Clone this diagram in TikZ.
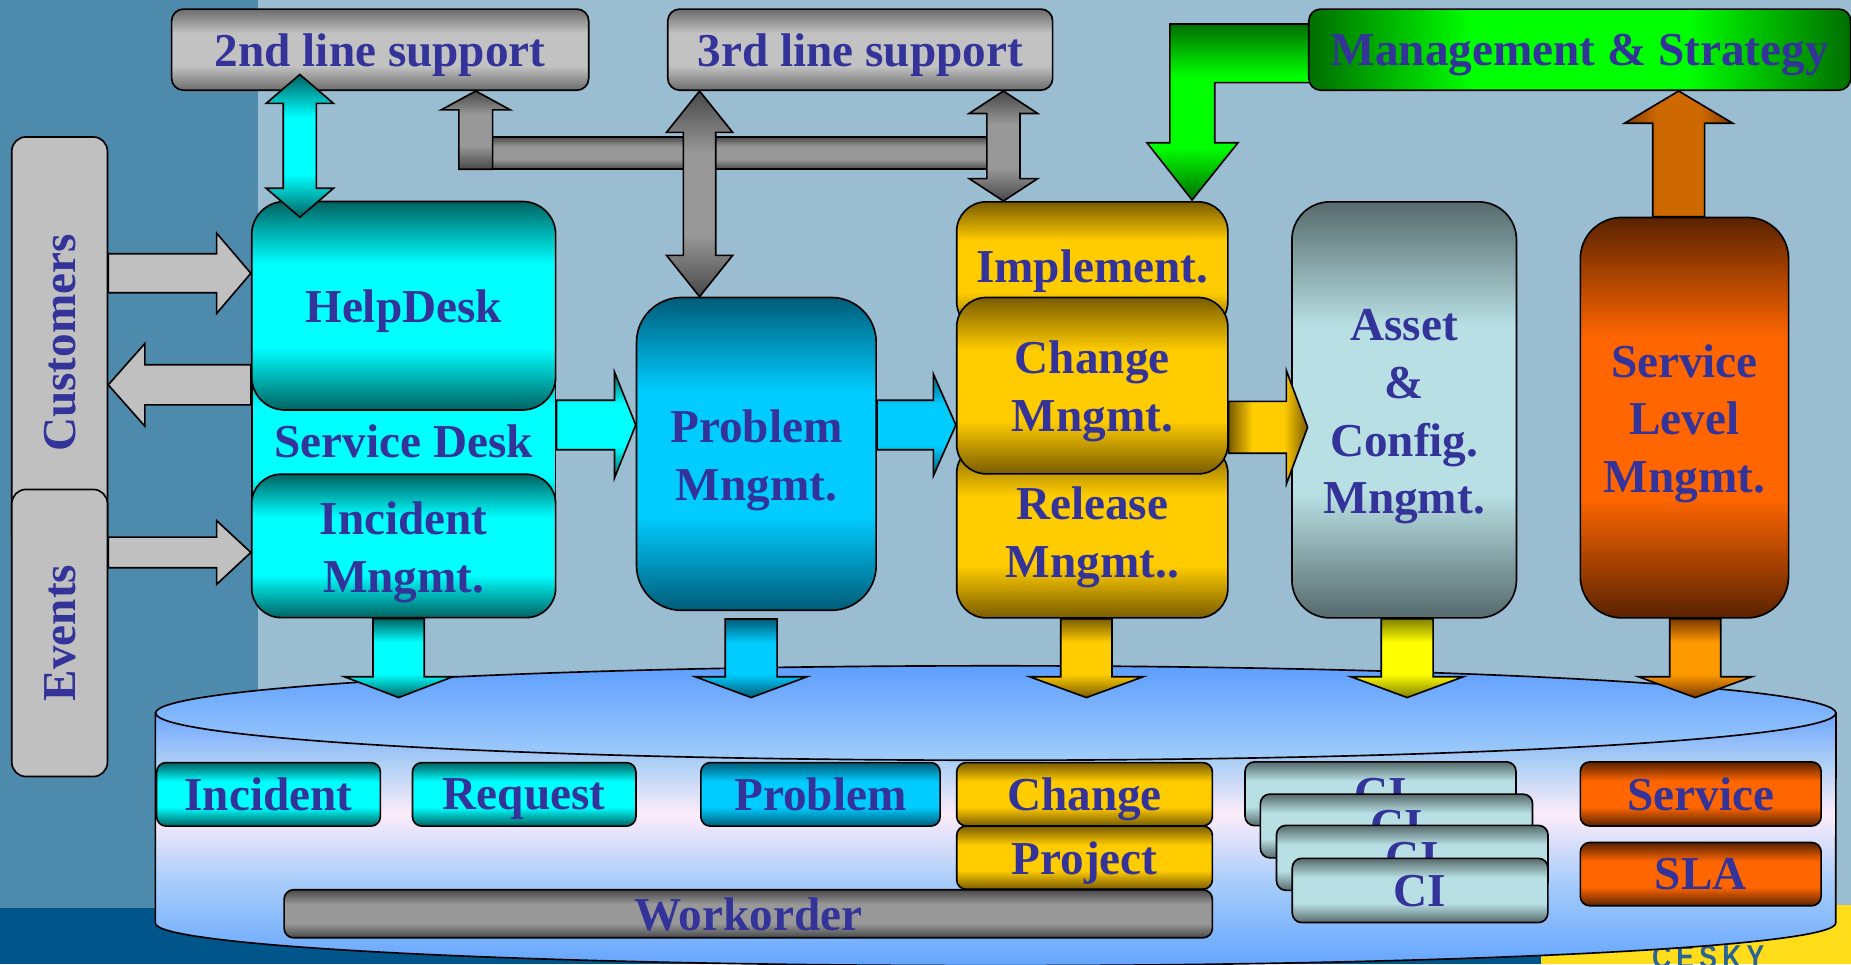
\documentclass[tikz,border=0pt]{standalone}
\usepackage{fontspec}
\setmainfont{Liberation Serif}
\newfontfamily\logofont{Liberation Sans}[LetterSpace=16, FakeStretch=0.8]
\usetikzlibrary{calc}

% palette
\definecolor{txtblue}{RGB}{51,51,153}
\definecolor{bglight}{RGB}{155,189,209}
\definecolor{bgstrip}{RGB}{77,138,172}
\definecolor{bgdark}{RGB}{0,86,138}
\definecolor{bgyellow}{RGB}{255,221,26}
\definecolor{logoblue}{RGB}{40,100,150}
\definecolor{plaingray}{RGB}{192,192,192}
\definecolor{grayD}{RGB}{108,108,108}\definecolor{grayL}{RGB}{194,194,194}
\definecolor{pipeD}{RGB}{72,72,72}\definecolor{pipeL}{RGB}{152,152,152}
\definecolor{cyanD}{RGB}{0,98,98}\definecolor{cyanL}{RGB}{0,255,255}
\definecolor{probD}{RGB}{0,92,120}\definecolor{probL}{RGB}{0,204,255}
\definecolor{goldD}{RGB}{122,92,0}\definecolor{goldL}{RGB}{255,204,0}
\definecolor{slateD}{RGB}{86,106,108}\definecolor{slateL}{RGB}{184,224,228}
\definecolor{rustD}{RGB}{90,34,0}\definecolor{rustL}{RGB}{255,102,0}
\definecolor{greenD}{RGB}{0,110,0}\definecolor{greenL}{RGB}{0,255,0}
\definecolor{yellD}{RGB}{128,128,0}\definecolor{yellL}{RGB}{255,255,0}
\definecolor{ambD}{RGB}{122,58,0}\definecolor{ambL}{RGB}{255,153,0}
\definecolor{brownD}{RGB}{130,58,0}\definecolor{brownL}{RGB}{206,104,0}
\definecolor{cylT}{RGB}{110,165,255}\definecolor{cylU}{RGB}{175,208,245}
\definecolor{cylP}{RGB}{252,236,250}\definecolor{cylM}{RGB}{165,203,250}
\definecolor{cylB}{RGB}{100,165,255}
\definecolor{faceT}{RGB}{95,158,255}\definecolor{faceB}{RGB}{160,205,250}

% dark - light - dark bands
\newcommand{\bandshading}[3]{%
  \pgfdeclareverticalshading{#1}{100bp}{color(0bp)=(#2); color(25bp)=(#2);
    color(40bp)=(#3); color(60bp)=(#3); color(75bp)=(#2); color(100bp)=(#2)}}
\bandshading{bandgray}{grayD}{grayL}
\bandshading{bandpipe}{pipeD}{pipeL}
\bandshading{bandcyan}{cyanD}{cyanL}
\bandshading{bandprob}{probD}{probL}
\bandshading{bandgold}{goldD}{goldL}
\bandshading{bandslate}{slateD}{slateL}
\bandshading{bandrust}{rustD}{rustL}
\bandshading{bandgreen}{greenD}{greenL}
\bandshading{bandyell}{yellD}{yellL}
\bandshading{bandamb}{ambD}{ambL}
\bandshading{bandbrown}{brownD}{brownL}
\pgfdeclareverticalshading{cylbody}{100bp}{color(0bp)=(cylB); color(25bp)=(cylB);
  color(41bp)=(cylM); color(55bp)=(cylP); color(65bp)=(cylU); color(75bp)=(cylT); color(100bp)=(cylT)}

% block arrow: style, start, tip, half shaft, half head, head length
\newcommand{\blockarrow}[6]{%
  \coordinate (bas) at (#2);
  \coordinate (bat) at (#3);
  \coordinate (bab) at ($(bat)!#6!(bas)$);
  \path[#1] ($(bas)!#4!90:(bat)$) -- ($(bab)!#4!90:(bat)$) -- ($(bab)!#5!90:(bat)$) -- (bat)
    -- ($(bab)!#5!-90:(bat)$) -- ($(bab)!#4!-90:(bat)$) -- ($(bas)!#4!-90:(bat)$) -- cycle;}
% double-headed block arrow: style, end A, end B, half shaft, half head, head length
\newcommand{\dblarrow}[6]{%
  \coordinate (daa) at (#2);
  \coordinate (dab) at (#3);
  \coordinate (da1) at ($(daa)!#6!(dab)$);
  \coordinate (da2) at ($(dab)!#6!(daa)$);
  \path[#1] (daa) -- ($(da1)!#5!90:(dab)$) -- ($(da1)!#4!90:(dab)$)
    -- ($(da2)!#4!-90:(daa)$) -- ($(da2)!#5!-90:(daa)$) -- (dab)
    -- ($(da2)!#5!90:(daa)$) -- ($(da2)!#4!90:(daa)$)
    -- ($(da1)!#4!-90:(dab)$) -- ($(da1)!#5!-90:(dab)$) -- cycle;}

% taller first line so stacked labels sit centred on their cap height
\newcommand{\lift}{\rule{0pt}{38pt}}

\tikzset{
  lbl/.style={font=\fontsize{40}{49}\selectfont\bfseries, text=txtblue, align=center},
  one/.style={text depth=0pt},
  box/.style={draw=black, line width=1.4pt, shade, inner sep=0pt, lbl, anchor=north west},
  conn/.style={draw=black, line width=1.4pt, shade},
  flat/.style={draw=black, line width=1.4pt, fill=plaingray},
  logo/.style={font={\fontsize{28}{30}\logofont\bfseries}, text=logoblue}
}

\begin{document}
\begin{tikzpicture}[x=1pt,y=-1pt]
\useasboundingbox (0,0) rectangle (1568,817);
\clip (0,0) rectangle (1568,817);

% backdrop
\fill[bglight] (0,0) rectangle (1568,817);
\fill[bgstrip] (0,0) rectangle (218.4,769);
\fill[bgdark] (0,769) rectangle (1305,817);
\fill[bgyellow] (1305,767) rectangle (1568,817);
\node[logo, anchor=base, inner sep=0pt] (logo) at (1447,820) {ČESKY};

% repository cylinder
\path[draw=black, line width=1.4pt, shade, shading=cylbody]
  (131.6,604) -- (131.6,782) arc[start angle=180, end angle=360, x radius=711.7pt, y radius=36pt]
  -- (1555.3,604) -- cycle;
\path[draw=black, line width=1.4pt, top color=faceT, bottom color=faceB]
  (843.5,604) ellipse [x radius=711.7pt, y radius=40pt];

% management feed into implementation
\path[conn, shading=bandgreen] (1112,20.3) -- (991,20.3) -- (991,120.9) -- (971.6,120.9)
  -- (1009.8,169.4) -- (1048.7,120.9) -- (1029,120.9) -- (1029,70) -- (1112,70) -- cycle;

% support tiers
\node[box, one, shading=bandgray, rounded corners=10pt, minimum width=353.3pt, minimum height=68.7pt] (sec2) at (144.7,7) {2nd line support};
\node[box, one, shading=bandgray, rounded corners=10pt, minimum width=326pt, minimum height=68.7pt] (sec3) at (565,7) {3rd line support};
\node[box, one, shading=bandgreen, shading angle=90, rounded corners=10pt, minimum width=459pt, minimum height=68.7pt] (mgmt) at (1108,7) {Management \& Strategy};

% sources
\node[flat, lbl, one, inner sep=0pt, rotate=90, rounded corners=12pt, minimum width=349pt, minimum height=81pt] (cust) at (50.5,290.5) {Customers};
\node[flat, lbl, one, inner sep=0pt, rotate=90, rounded corners=12pt, minimum width=243.2pt, minimum height=81pt] (evt) at (50.5,536.2) {Events};

% service desk
\node[box, one, shading=bandcyan, minimum width=257.5pt, minimum height=154pt] (sd) at (212.5,296) {Service Desk};
\node[box, one, shading=bandcyan, rounded corners=28pt, minimum width=257.5pt, minimum height=176.6pt] (hd) at (212.5,170) {HelpDesk};
\node[box, shading=bandcyan, rounded corners=25pt, minimum width=257.5pt, minimum height=121.5pt] (inc) at (212.5,401) {\lift Incident\\Mngmt.};

% processes
\node[box, shading=bandprob, rounded corners=38pt, minimum width=203pt, minimum height=265pt] (prb) at (538.5,251.3) {\lift Problem\\Mngmt.};
\node[box, one, shading=bandgold, rounded corners=25pt, minimum width=229.7pt, minimum height=109.4pt] (impl) at (809.7,170.3) {Implement.};
\node[box, shading=bandgold, rounded corners=25pt, minimum width=229.7pt, minimum height=147.4pt] (rel) at (809.7,375.3) {\lift Release\\Mngmt..};
\node[box, shading=bandgold, rounded corners=25pt, minimum width=229.7pt, minimum height=149.4pt] (chg) at (809.7,251.3) {\lift Change\\Mngmt.};
\node[box, shading=bandslate, rounded corners=32pt, minimum width=190.2pt, minimum height=352.4pt] (ast) at (1093.7,170.3) {\lift Asset\\\&\\Config.\\Mngmt.};
\node[box, shading=bandrust, rounded corners=35pt, minimum width=176.4pt, minimum height=339.2pt] (slm) at (1338,183.5) {\lift Service\\Level\\Mngmt.};

% records in the repository
\node[box, one, shading=bandcyan, rounded corners=8pt, minimum width=189.5pt, minimum height=53.8pt] (rInc) at (132,645.3) {Incident};
\node[box, one, shading=bandcyan, rounded corners=8pt, minimum width=189.3pt, minimum height=53.8pt] (rReq) at (348.7,645.3) {Request};
\node[box, one, shading=bandprob, rounded corners=8pt, minimum width=202.7pt, minimum height=53.8pt] (rPrb) at (593,645.3) {Problem};
\node[box, one, shading=bandgold, rounded corners=8pt, minimum width=216.6pt, minimum height=53.6pt] (rChg) at (809.7,645.3) {Change};
\node[box, one, shading=bandgold, rounded corners=8pt, minimum width=216.6pt, minimum height=53.6pt] (rPrj) at (809.7,699) {Project};
\node[box, one, shading=bandpipe, rounded corners=8pt, minimum width=786.3pt, minimum height=40.7pt] (rWo) at (240,753) {Workorder};
\node[box, one, shading=bandslate, rounded corners=8pt, minimum width=229.5pt, minimum height=54pt] (ci1) at (1054,644.7) {CI};
\node[box, one, shading=bandslate, rounded corners=8pt, minimum width=230.5pt, minimum height=54pt] (ci2) at (1067,672) {CI};
\node[box, one, shading=bandslate, rounded corners=8pt, minimum width=230pt, minimum height=55pt] (ci3) at (1080.6,698.5) {CI};
\node[box, one, shading=bandslate, rounded corners=8pt, minimum width=216.5pt, minimum height=54.4pt] (ci4) at (1094,726.4) {CI};
\node[box, one, shading=bandrust, rounded corners=8pt, minimum width=204pt, minimum height=54.3pt] (rSrv) at (1338,644.7) {Service};
\node[box, one, shading=bandrust, rounded corners=8pt, minimum width=204pt, minimum height=53.6pt] (rSla) at (1338,713) {SLA};

% reference levels for the connectors
\coordinate (yA) at (0,231.5);
\coordinate (yB) at (0,326);
\coordinate (yC) at (0,468);
\coordinate (yD) at (0,360);
\coordinate (yF) at (0,362);
\coordinate (xG) at (254,0);
\coordinate (xH) at (592.6,0);
\coordinate (xI) at (850,0);
\coordinate (xK) at (403,143.4);
\coordinate (xM) at (1422,0);
\coordinate (d1) at (337.7,590.9);
\coordinate (d2) at (636.3,590.9);
\coordinate (d3) at (920.3,590.9);
\coordinate (d4) at (1192,590.9);
\coordinate (d5) at (1436,590.9);

% customer and event traffic
\blockarrow{flat}{cust.south |- yA}{hd.west |- yA}{16.5pt}{34pt}{29pt}
\blockarrow{flat}{hd.west |- yB}{cust.south |- yB}{17pt}{35pt}{31pt}
\blockarrow{flat}{evt.south |- yC}{inc.west |- yC}{13pt}{27pt}{29pt}

% process chain
\blockarrow{conn, shading=bandcyan}{sd.east |- yD}{prb.west |- yD}{21pt}{45pt}{18pt}
\blockarrow{conn, shading=bandprob}{prb.east |- yD}{chg.west |- yD}{21pt}{43pt}{19pt}
\coordinate (fT) at ($(ast.west |- yF)+(14,0)$);
\blockarrow{conn, shading=bandgold, shading angle=90}{chg.east |- yF}{fT}{22pt}{48pt}{18pt}

% escalation paths
\path[conn, shading=bandpipe] (403,115.8) rectangle (850,143.4);
\blockarrow{conn, shading=bandpipe}{xK}{sec2.south -| xK}{14.3pt}{29.3pt}{16pt}
\dblarrow{conn, shading=bandpipe}{sec3.south -| xI}{impl.north -| xI}{14pt}{29pt}{19pt}
\dblarrow{conn, shading=bandpipe}{sec3.south -| xH}{prb.north -| xH}{13.7pt}{28pt}{35pt}
\coordinate (g1) at ($(sec2.south -| xG)+(0,-14)$);
\coordinate (g2) at ($(hd.north -| xG)+(0,14)$);
\dblarrow{conn, shading=bandcyan}{g1}{g2}{14pt}{28.5pt}{24.5pt}

% service level reporting
\blockarrow{conn, shading=bandbrown, shading angle=90}{slm.north -| xM}{mgmt.south -| xM}{22pt}{45.8pt}{27.3pt}

% writes into the repository
\coordinate (p0) at ($(prb.south -| d2)+(0,6.7)$);
\blockarrow{conn, shading=bandcyan}{inc.south -| d1}{d1}{21.7pt}{45.8pt}{17.6pt}
\blockarrow{conn, shading=bandprob}{p0}{d2}{22pt}{47.3pt}{17.6pt}
\blockarrow{conn, shading=bandgold}{rel.south -| d3}{d3}{21.7pt}{48pt}{17.6pt}
\blockarrow{conn, shading=bandyell}{ast.south -| d4}{d4}{22pt}{47.5pt}{17.6pt}
\blockarrow{conn, shading=bandamb}{slm.south -| d5}{d5}{21.6pt}{48pt}{17.6pt}
\end{tikzpicture}
\end{document}
